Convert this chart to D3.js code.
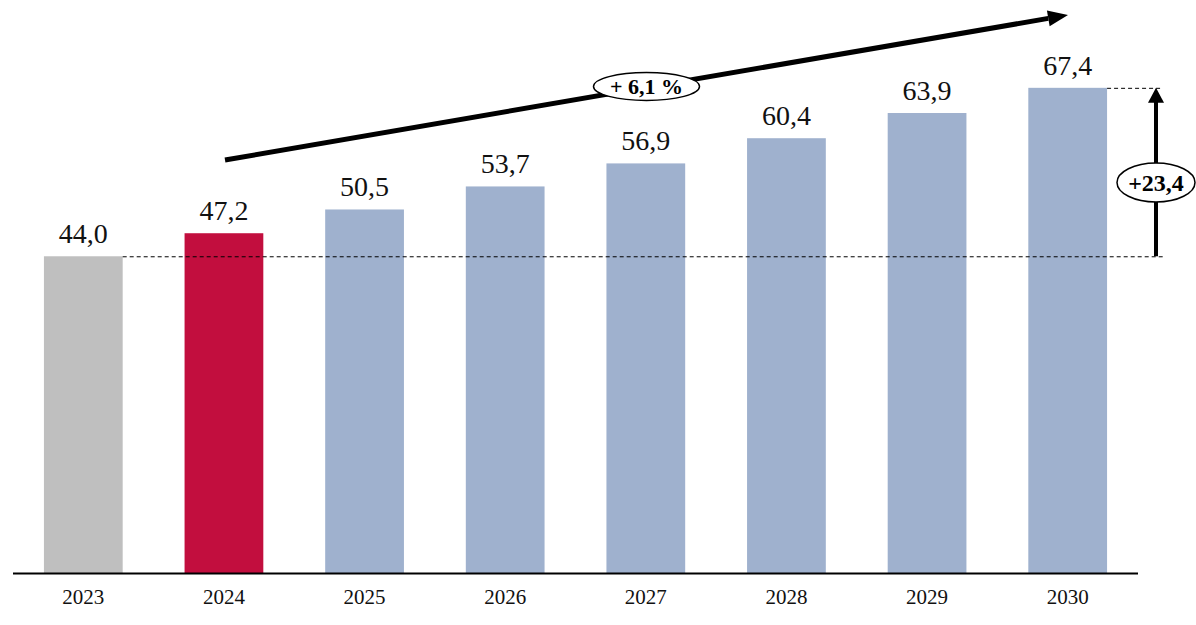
<!DOCTYPE html>
<html><head><meta charset="utf-8">
<script src="https://cdn.jsdelivr.net/npm/d3@7"></script>
<style>body{margin:0;background:#fff}svg{display:block}</style>
</head><body>
<svg id="c" width="1196" height="625"></svg>
<script>
const years = ["2023","2024","2025","2026","2027","2028","2029","2030"];
const values = [44.0, 47.2, 50.5, 53.7, 56.9, 60.4, 63.9, 67.4];
const valueLabels = ["44,0","47,2","50,5","53,7","56,9","60,4","63,9","67,4"];
const barKinds = ["actual","current","forecast","forecast","forecast","forecast","forecast","forecast"];
const growthLabel = "+ 6,1 %";
const diffLabel = "+23,4";

const svg = d3.select("#c");
const font = "'Liberation Serif','Times New Roman',serif";
const x = d3.scaleBand().domain(years).range([13,1138]).paddingInner(0.44).paddingOuter(0.22);
const y = d3.scaleLinear().domain([0, 79.6]).range([573, 0]);
const color = d3.scaleOrdinal().domain(["actual","current","forecast"]).range(["#BFBFBF","#C20E3E","#9FB1CE"]);

// bars
svg.selectAll("rect.bar").data(years).join("rect")
  .attr("x", d => x(d)).attr("width", x.bandwidth())
  .attr("y", (d,i) => y(values[i])).attr("height", (d,i) => y(0) - y(values[i]))
  .attr("fill", (d,i) => color(barKinds[i]));

// value labels
svg.selectAll("text.val").data(years).join("text")
  .attr("x", d => x(d) + x.bandwidth()/2).attr("y", (d,i) => y(values[i]) - 13)
  .attr("text-anchor","middle").attr("font-family",font).attr("font-size",28)
  .attr("fill","#111").text((d,i) => valueLabels[i]);

// x axis
const ax = svg.append("g").attr("transform",`translate(0,${y(0)+0.5})`)
  .call(d3.axisBottom(x).tickSize(0).tickPadding(16));
ax.select(".domain").attr("stroke","#000").attr("stroke-width",2).attr("d","M13,0H1138");
ax.selectAll("text").attr("font-family",font).attr("font-size",21).attr("fill","#111");

// dashed reference lines
const first = 0, last = years.length - 1;
const xArrow = 1156;
svg.append("line").attr("x1", x(years[first]) + x.bandwidth()).attr("x2", 1163)
  .attr("y1", y(values[first])+0.5).attr("y2", y(values[first])+0.5)
  .attr("stroke","#000").attr("stroke-dasharray","4,3").attr("stroke-width",1);
svg.append("line").attr("x1", x(years[last]) + x.bandwidth()).attr("x2", 1163)
  .attr("y1", y(values[last])+0.5).attr("y2", y(values[last])+0.5)
  .attr("stroke","#000").attr("stroke-dasharray","4,3").attr("stroke-width",1);

// vertical difference arrow
svg.append("line").attr("x1",xArrow).attr("x2",xArrow)
  .attr("y1", y(values[first])).attr("y2", y(values[last]) + 12)
  .attr("stroke","#000").attr("stroke-width",4);
const ty = y(values[last]);
svg.append("path").attr("d",`M${xArrow},${ty} L${xArrow-8},${ty+15} L${xArrow+8},${ty+15} Z`).attr("fill","#000");
const ey = 182.5;
svg.append("ellipse").attr("cx",xArrow).attr("cy",ey).attr("rx",39).attr("ry",19.5)
  .attr("fill","#fff").attr("stroke","#000").attr("stroke-width",1.5);
svg.append("text").attr("x",xArrow).attr("y",ey+8).attr("text-anchor","middle")
  .attr("font-family",font).attr("font-weight","bold").attr("font-size",24).attr("fill","#000").text(diffLabel);

// growth arrow
const x0 = 225, y0 = 160, x1 = 1068, y1 = 15;
const ang = Math.atan2(y1-y0, x1-x0);
const hl = 20, hw = 8;
const bx = x1 - hl*Math.cos(ang), by = y1 - hl*Math.sin(ang);
svg.append("line").attr("x1",x0).attr("y1",y0).attr("x2",bx).attr("y2",by)
  .attr("stroke","#000").attr("stroke-width",5);
svg.append("path").attr("d",`M${x1},${y1} L${bx - hw*Math.sin(ang)},${by + hw*Math.cos(ang)} L${bx + hw*Math.sin(ang)},${by - hw*Math.cos(ang)} Z`).attr("fill","#000");
const gx = 646.5, gy = y0 + (gx-x0)*(y1-y0)/(x1-x0);
svg.append("ellipse").attr("cx",gx).attr("cy",gy - 1).attr("rx",53).attr("ry",14)
  .attr("fill","#fff").attr("stroke","#000").attr("stroke-width",1.5);
svg.append("text").attr("x",gx).attr("y",gy + 6.5).attr("text-anchor","middle")
  .attr("font-family",font).attr("font-weight","bold").attr("font-size",22).attr("fill","#000").text(growthLabel);
</script>
</body></html>
